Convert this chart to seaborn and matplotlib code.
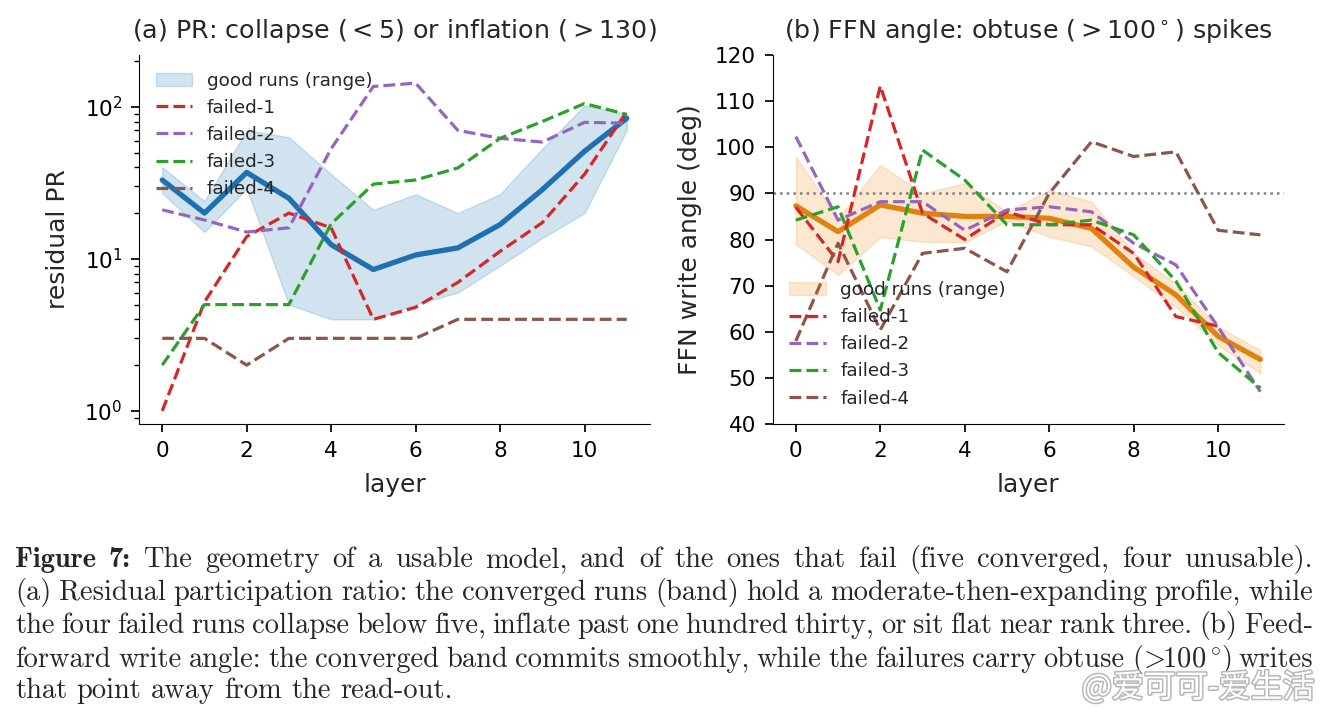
import numpy as np
import matplotlib.pyplot as plt
import matplotlib.patheffects as pe
import seaborn as sns

# layers
layers = np.arange(12)

# (a) residual participation ratio
pr_good_mean = [33, 20, 37, 25, 12.4, 8.5, 10.6, 11.8, 16.8, 28.5, 51, 84]
pr_good_lo = [27, 15, 29, 5, 4, 4, 5, 6, 9, 13.7, 20, 70]
pr_good_hi = [40, 24, 70, 63, 36, 21, 26.6, 20, 26.6, 53, 102, 90]
pr_failed = {
    'failed-1': [1.0, 5.2, 14, 20, 16, 4, 4.8, 7, 11.2, 17.3, 36, 93],
    'failed-2': [21, 18, 15, 16, 53, 136, 143, 70, 62, 58.6, 79, 78],
    'failed-3': [2, 5, 5, 5, 17, 31, 33, 39.6, 62, 80, 105, 89],
    'failed-4': [3, 3, 2, 3, 3, 3, 3, 4, 4, 4, 4, 4],
}

# (b) FFN write angle (deg)
ang_good_mean = [87.3, 81.7, 87.5, 85.7, 85, 85, 84.6, 82.4, 74, 68, 59, 54]
ang_good_lo = [79, 72.3, 80.5, 79.5, 79.4, 84, 80.6, 78.5, 72, 65.4, 57.1, 51]
ang_good_hi = [98, 84.5, 96.2, 90, 92.2, 86, 90.7, 88.2, 77, 70.5, 61.1, 56]
ang_failed = {
    'failed-1': [87, 75.2, 113.3, 85.7, 80, 86, 83.2, 83.2, 77, 63.3, 61.2, np.nan],
    'failed-2': [102.3, 84.2, 88.2, 88.2, 82, 86.4, 87.1, 86, 79.2, 74.5, 61, 47],
    'failed-3': [84.2, 87.1, 64.7, 99.4, 92.9, 83.2, 83.2, 84.2, 81, 71, 55.5, 47.8],
    'failed-4': [58, 79.2, 60.4, 77, 78.1, 73, 90, 101.2, 98, 99, 82, 81],
}
failed_colors = {'failed-1': '#d62728', 'failed-2': '#9467bd',
                 'failed-3': '#2ca02c', 'failed-4': '#8c564b'}

caption_lines = [
    "Figure 7: The geometry of a usable model, and of the ones that fail (five converged, four unusable).",
    "(a) Residual participation ratio: the converged runs (band) hold a moderate-then-expanding profile, while",
    "the four failed runs collapse below five, inflate past one hundred thirty, or sit flat near rank three. (b) Feed-",
    r"forward write angle: the converged band commits smoothly, while the failures carry obtuse ($\!>\!\!100^\circ\!$) writes",
    "that point away from the read-out.",
]

sns.set_style('ticks')
plt.rcParams['font.family'] = ['DejaVu Sans', 'Noto Sans CJK SC']
plt.rcParams['axes.edgecolor'] = 'black'
plt.rcParams['xtick.color'] = 'black'
plt.rcParams['ytick.color'] = 'black'

W, H = 1329, 716
fig = plt.figure(figsize=(W / 100, H / 100), dpi=100)
ax1 = fig.add_axes([139 / W, 1 - 424 / H, 511 / W, 369 / H])
ax2 = fig.add_axes([772.6 / W, 1 - 424 / H, 511 / W, 369 / H])


def draw_panel(ax, mean, lo, hi, failed, color, band_color):
    ax.fill_between(layers, lo, hi, color=band_color, alpha=0.2, lw=1,
                    label='good runs (range)')
    sns.lineplot(x=layers, y=mean, ax=ax, color=color, lw=3.8, legend=False)
    for name, vals in failed.items():
        sns.lineplot(x=layers, y=vals, ax=ax, color=failed_colors[name],
                     lw=2.3, linestyle='--', label=name)
    ax.set_xlabel('layer', fontsize=18, labelpad=9)
    ax.tick_params(axis='both', which='major', labelsize=15.5, length=6, width=1.25, pad=6)
    ax.tick_params(axis='both', which='minor', length=3.5, width=1)
    ax.set_xticks([0, 2, 4, 6, 8, 10])
    ax.set_xlim(-0.55, 11.55)
    sns.despine(ax=ax)


draw_panel(ax1, pr_good_mean, pr_good_lo, pr_good_hi, pr_failed, '#1f70b0', '#1f77b4')
ax1.set_yscale('log')
ax1.set_ylim(0.82, 219)
ax1.set_ylabel('residual PR', fontsize=18, labelpad=10)
ax1.set_title(r'(a) PR: collapse ($<5$) or inflation ($>130$)', fontsize=18.3, pad=12)
ax1.legend(loc='upper left', frameon=False, fontsize=13.2)

draw_panel(ax2, ang_good_mean, ang_good_lo, ang_good_hi, ang_failed, '#e1820f', '#f08a1c')
ax2.axhline(90, color='gray', linestyle=':', lw=1.8, zorder=1)
ax2.set_ylim(40, 120)
ax2.set_yticks(range(40, 121, 10))
ax2.set_ylabel('FFN write angle (deg)', fontsize=18, labelpad=9)
ax2.set_title(r'(b) FFN angle: obtuse ($>100^\circ$) spikes', fontsize=18.3, pad=12)
ax2.legend(loc='lower left', frameon=False, fontsize=13.2)

# caption, justified between the margins
x0, x1 = 15, 1313
baselines = [567, 600, 633, 667, 698]
cap_size = 20.5
renderer = fig.canvas.get_renderer()
for i, line in enumerate(caption_lines):
    words = line.split(' ')
    texts = []
    for j, w in enumerate(words):
        bold = (i == 0 and j < 2)
        t = fig.text(0, 1 - baselines[i] / H, w, fontsize=cap_size, va='baseline',
                     family='cmb10' if bold else 'cmr10', math_fontfamily='cm')
        texts.append(t)
    widths = [t.get_window_extent(renderer).width for t in texts]
    if i < len(caption_lines) - 1:
        gap = (x1 - x0 - sum(widths)) / (len(words) - 1)
    else:
        gap = cap_size * 100 / 72 * 0.333
    x = x0
    for t, wd in zip(texts, widths):
        t.set_x(x / W)
        x += wd + gap

# watermark
fig.text(1315 / W, 1 - 688 / H, '@爱可可-爱生活', fontsize=23, ha='right', va='center',
         color='white', family=['Noto Sans CJK SC', 'DejaVu Sans'],
         path_effects=[pe.withStroke(linewidth=2.2, foreground='0.72')])

fig.savefig('out.png', dpi=100)
